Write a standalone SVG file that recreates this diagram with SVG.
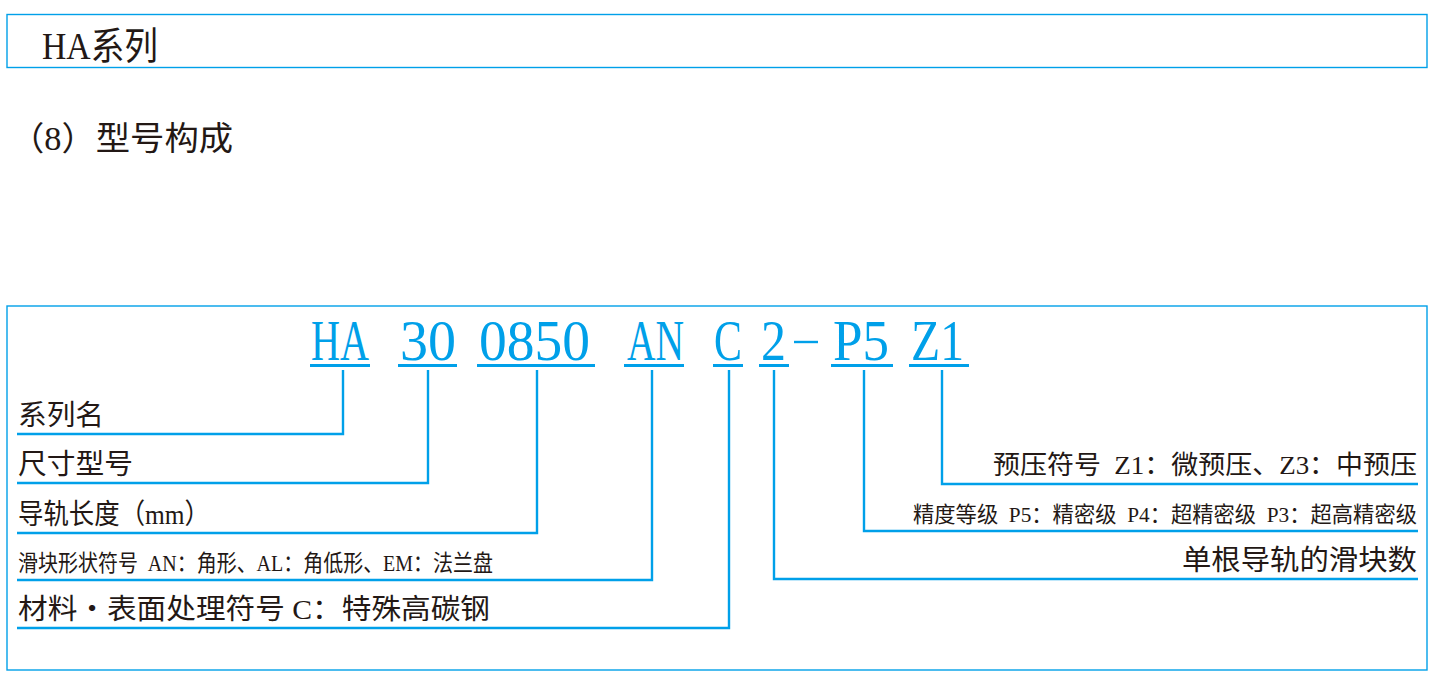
<svg xmlns="http://www.w3.org/2000/svg" width="1450" height="692" viewBox="0 0 1450 692">
<style>
.box{fill:none;stroke:#00a0e9;stroke-width:1.4}
.ln{stroke:#00a0e9;stroke-width:2.4;fill:none}
.ul{stroke:#00a0e9;stroke-width:3}
.dk{fill:#231815;font-family:"Liberation Serif","Noto Sans CJK SC",serif}
.code{fill:#00a0e9;font-family:"Liberation Serif",serif;font-size:56px}
.lb{fill:#231815;font-family:"Liberation Serif","Noto Sans CJK SC",serif;white-space:pre}
</style>
<rect width="1450" height="692" fill="#fff"/>
<g id="header">
<rect class="box" x="7" y="14.5" width="1420" height="53"/>
<text class="dk" x="42" y="59" font-size="38" textLength="116" lengthAdjust="spacingAndGlyphs">HA系列</text>
</g>
<g id="subtitle">
<text class="dk" x="10" y="150" font-size="33" textLength="223" lengthAdjust="spacingAndGlyphs">（8）型号构成</text>
</g>
<rect class="box" x="7" y="306" width="1420" height="364"/>
<g id="code">
<text class="code" x="311" y="360" textLength="58" lengthAdjust="spacingAndGlyphs">HA</text>
<text class="code" x="400" y="360" textLength="56" lengthAdjust="spacingAndGlyphs">30</text>
<text class="code" x="479" y="360" textLength="111" lengthAdjust="spacingAndGlyphs">0850</text>
<text class="code" x="627" y="360" textLength="57" lengthAdjust="spacingAndGlyphs">AN</text>
<text class="code" x="714" y="360" textLength="28" lengthAdjust="spacingAndGlyphs">C</text>
<text class="code" x="761" y="360" textLength="25" lengthAdjust="spacingAndGlyphs">2</text>
<line class="ln" x1="794" y1="342" x2="818" y2="342" stroke-width="2"/>
<text class="code" x="833" y="360" textLength="56" lengthAdjust="spacingAndGlyphs">P5</text>
<text class="code" x="911" y="360" textLength="53" lengthAdjust="spacingAndGlyphs">Z1</text>
<g class="ul">
<line x1="310" y1="365.5" x2="370" y2="365.5"/>
<line x1="398" y1="365.5" x2="457" y2="365.5"/>
<line x1="477" y1="365.5" x2="595" y2="365.5"/>
<line x1="624" y1="365.5" x2="684" y2="365.5"/>
<line x1="713" y1="365.5" x2="743" y2="365.5"/>
<line x1="759" y1="365.5" x2="789" y2="365.5"/>
<line x1="831" y1="365.5" x2="893" y2="365.5"/>
<line x1="909" y1="365.5" x2="969" y2="365.5"/>
</g>
</g>
<g id="connectors">
<polyline class="ln" points="343,370 343,434 17,434"/>
<polyline class="ln" points="428,370 428,483 17,483"/>
<polyline class="ln" points="537,370 537,533 17,533"/>
<polyline class="ln" points="652,370 652,580 17,580"/>
<polyline class="ln" points="729,370 729,628 17,628"/>
<polyline class="ln" points="774,370 774,579 1418,579"/>
<polyline class="ln" points="864,370 864,531 1418,531"/>
<polyline class="ln" points="942,370 942,484 1418,484"/>
</g>
<g id="n-series"><text class="lb" x="18" y="425" font-size="28" textLength="86" lengthAdjust="spacingAndGlyphs">系列名</text></g>
<g id="n-size"><text class="lb" x="18" y="474" font-size="28" textLength="115" lengthAdjust="spacingAndGlyphs">尺寸型号</text></g>
<g id="n-length"><text class="lb" x="18" y="524" font-size="28" textLength="192" lengthAdjust="spacingAndGlyphs">导轨长度（mm）</text></g>
<g id="n-shape"><text class="lb" x="18" y="571" font-size="23" textLength="475" lengthAdjust="spacingAndGlyphs">滑块形状符号  AN：角形、AL：角低形、EM：法兰盘</text></g>
<g id="n-material"><text class="lb" x="18" y="619" font-size="28" textLength="472" lengthAdjust="spacingAndGlyphs">材料・表面处理符号 C：特殊高碳钢</text></g>
<g id="n-preload"><text class="lb" x="1417" y="474" font-size="26" text-anchor="end" textLength="424" lengthAdjust="spacingAndGlyphs">预压符号  Z1：微预压、Z3：中预压</text></g>
<g id="n-accuracy"><text class="lb" x="1417" y="522" font-size="21.5" text-anchor="end" textLength="504" lengthAdjust="spacingAndGlyphs">精度等级  P5：精密级  P4：超精密级  P3：超高精密级</text></g>
<g id="n-blocks"><text class="lb" x="1417" y="570" font-size="28" text-anchor="end" textLength="235" lengthAdjust="spacingAndGlyphs">单根导轨的滑块数</text></g>
</svg>
